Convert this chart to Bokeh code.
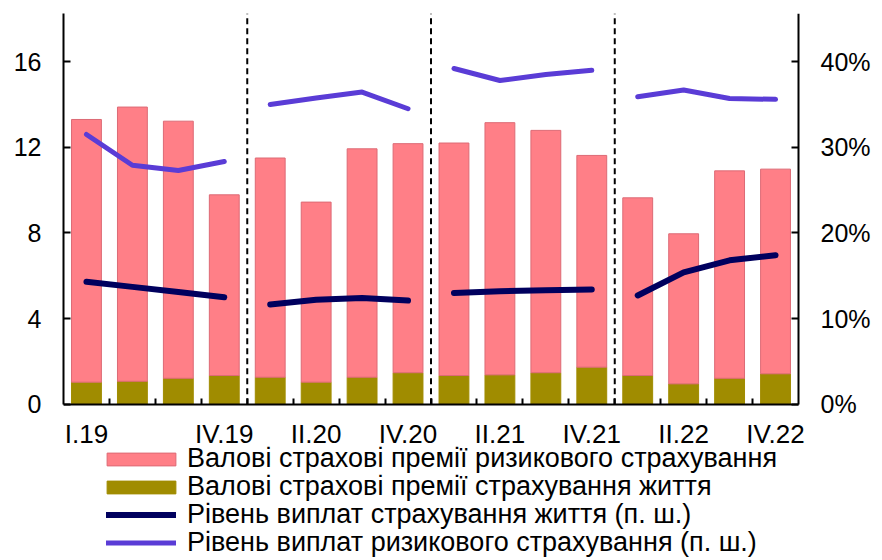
from bokeh.plotting import figure
from bokeh.models import (Range1d, LinearAxis, FixedTicker, Legend,
                          LegendItem, ColumnDataSource)
from bokeh.embed import file_html
from bokeh.resources import INLINE

# ---- data -------------------------------------------------------------
quarters = ["I.19", "II.19", "III.19", "IV.19",
            "I.20", "II.20", "III.20", "IV.20",
            "I.21", "II.21", "III.21", "IV.21",
            "I.22", "II.22", "III.22", "IV.22"]
shown_labels = ["I.19", "IV.19", "II.20", "IV.20", "II.21", "IV.21", "II.22", "IV.22"]

# gross premiums, bn UAH
risk_prem = [12.27, 12.81, 12.01, 8.44, 10.24, 8.41, 10.67, 10.70,
             10.86, 11.78, 11.32, 9.89, 8.30, 7.01, 9.69, 9.56]
life_prem = [1.03, 1.07, 1.21, 1.34, 1.26, 1.03, 1.26, 1.47,
             1.34, 1.37, 1.47, 1.73, 1.34, 0.95, 1.21, 1.42]
# payout levels, % (right axis)
life_pay = [14.3, 13.7, 13.1, 12.5, 11.65, 12.2, 12.4, 12.1,
            13.0, 13.2, 13.3, 13.4, 12.7, 15.4, 16.8, 17.4]
risk_pay = [31.5, 27.9, 27.3, 28.35, 35.0, 35.75, 36.45, 34.5,
            39.2, 37.8, 38.5, 39.0, 35.9, 36.7, 35.7, 35.6]

left_ticks = [0, 4, 8, 12, 16]
right_ticks = [0, 10, 20, 30, 40]
left_max = 18.25
right_per_left = 2.5

series_names = ["Валові страхові премії ризикового страхування",
                "Валові страхові премії страхування життя",
                "Рівень виплат страхування життя (п. ш.)",
                "Рівень виплат ризикового страхування (п. ш.)"]

# ---- styles / layout -----------------------------------------------------
PINK = "#FF7F87"
PINK_EDGE = "#DD6A75"
OLIVE = "#A08C00"
NAVY = "#00005E"
PURPLE = "#5A3CD6"
FONT = "Liberation Sans"

W, H = 874, 560
FRAME_LEFT = 63
FRAME_TOP = 13
PLOT_RIGHT = 798       # where the right axis sits
AXIS_Y = 403.7         # px of value 0 from figure top
px_per_unit = (AXIS_Y - FRAME_TOP) / left_max
left_min = -(H - AXIS_Y) / px_per_unit      # room below axis: labels + legend

n = len(quarters)
px_per_slot = (PLOT_RIGHT - FRAME_LEFT) / n
x_end = -0.5 + (W - FRAME_LEFT) / px_per_slot  # room right of axis: labels

xs = list(range(n))
years = [q.split(".")[1] for q in quarters]

src = ColumnDataSource(dict(x=xs, life=life_prem, risk=risk_prem))

p = figure(width=W, height=H, output_backend="svg", toolbar_location=None,
           x_range=Range1d(-0.5, x_end), y_range=Range1d(left_min, left_max),
           min_border_left=FRAME_LEFT, min_border_right=0,
           min_border_top=FRAME_TOP, min_border_bottom=0)
p.extra_y_ranges = {"pct": Range1d(left_min * right_per_left,
                                   left_max * right_per_left)}
p.outline_line_color = None
p.grid.visible = False
p.background_fill_color = "white"
p.border_fill_color = "white"

bars = p.vbar_stack(["life", "risk"], x="x", width=0.65, source=src,
                    fill_color=[OLIVE, PINK], line_color=[OLIVE, PINK_EDGE],
                    line_width=1)

# lines broken between years
def broken(vals):
    bx, by = [], []
    for i, v in enumerate(vals):
        if i > 0 and years[i] != years[i - 1]:
            bx.append(float("nan")); by.append(float("nan"))
        bx.append(xs[i]); by.append(v)
    return bx, by

lx, ly = broken(life_pay)
rx, ry = broken(risk_pay)
r_life = p.line(lx, ly, y_range_name="pct", line_color=NAVY, line_width=6,
                line_cap="round", line_join="round")
r_risk = p.line(rx, ry, y_range_name="pct", line_color=PURPLE, line_width=5,
                line_cap="round", line_join="round")

# year separators (dashed)
sep = [xs[i] - 0.5 for i in range(1, n) if years[i] != years[i - 1]]
p.segment(x0=sep, y0=[0] * len(sep), x1=sep, y1=[left_max] * len(sep),
          line_color="black", line_width=2, line_dash="6 4")

# x axis (fixed at value 0)
xa = p.xaxis[0]
xa.fixed_location = 0
xa.bounds = (-0.5, n - 0.5)
xa.ticker = FixedTicker(ticks=[quarters.index(s) for s in shown_labels],
                        minor_ticks=[i + 0.5 for i in range(n - 1)])
xa.major_label_overrides = {quarters.index(s): s for s in shown_labels}
xa.major_tick_line_color = None
xa.minor_tick_in = 6
xa.minor_tick_out = 0
xa.minor_tick_line_width = 2
xa.minor_tick_line_color = "black"
xa.axis_line_width = 2
xa.major_label_standoff = 9
xa.major_label_text_font = FONT
xa.major_label_text_font_size = "26px"
xa.major_label_text_color = "black"

# left axis
ya = p.yaxis[0]
ya.bounds = (0, left_max)
ya.ticker = FixedTicker(ticks=left_ticks)
ya.major_tick_in = 7
ya.major_tick_out = 0
ya.major_tick_line_width = 2
ya.minor_tick_line_color = None
ya.axis_line_width = 2
ya.major_label_standoff = 22
ya.major_label_text_font = FONT
ya.major_label_text_font_size = "25px"
ya.major_label_text_color = "black"

# right axis (fixed at the right end of the quarters)
ra = LinearAxis(y_range_name="pct", ticker=FixedTicker(ticks=right_ticks),
                bounds=(0, left_max * right_per_left), fixed_location=n - 0.5)
ra.major_label_overrides = {t: f"{t}%" for t in right_ticks}
ra.major_tick_in = 7
ra.major_tick_out = 0
ra.major_tick_line_width = 2
ra.minor_tick_line_color = None
ra.axis_line_width = 2
ra.major_label_standoff = 22
ra.major_label_text_font = FONT
ra.major_label_text_font_size = "25px"
ra.major_label_text_color = "black"
p.add_layout(ra, "right")

# legend: one row per Legend so rows can be packed tightly
LEG_FS = 27
ROW_H = 32            # rendered height of one legend row at LEG_FS
ROW_PITCH = 28
FIRST_ROW_C = 458     # px from figure top, centre of first row
row_renderers = [bars[1], bars[0], r_life, r_risk]
is_area = [True, True, False, False]
for i, (name, rend, area) in enumerate(zip(series_names, row_renderers, is_area)):
    centre = FIRST_ROW_C + i * ROW_PITCH
    y_loc = H - (centre + ROW_H / 2)
    if area:   # area swatches are drawn with a 10% inset
        loc = (35, y_loc); gw, gh, st = 86, 16, 3
    else:
        loc = (43, y_loc); gw, gh, st = 70, 13, 11
    leg = Legend(items=[LegendItem(label=name, renderers=[rend])],
                 location=loc, orientation="vertical",
                 label_text_font=FONT, label_text_font_size=f"{LEG_FS}px",
                 label_text_color="black", glyph_width=gw, glyph_height=gh,
                 spacing=0, padding=0, margin=0, label_standoff=st,
                 label_height=20, border_line_color=None,
                 background_fill_alpha=0)
    p.add_layout(leg, "center")

open("out.html", "w").write(file_html(p, INLINE))
